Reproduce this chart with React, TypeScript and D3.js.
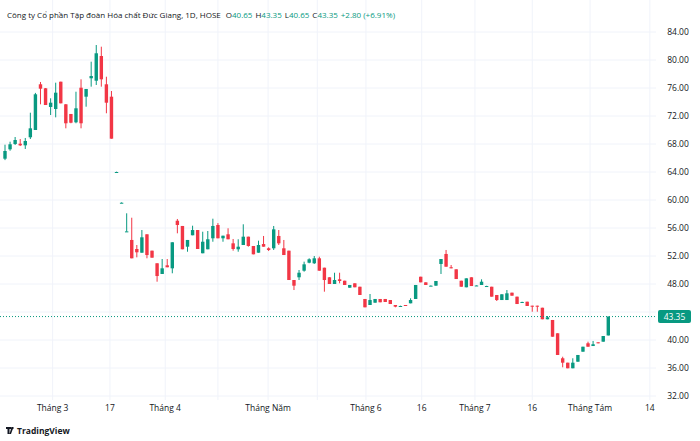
import React from "react";
import * as d3 from "d3";

// [open, high, low, close]
const candles: number[][] = [
  [65.9, 67.9, 65.7, 67.0], [67.24, 68.33, 67.04, 67.96], [68.0, 69.0, 67.86, 68.57], [68.04, 68.71, 67.71, 67.81],
  [67.81, 68.86, 67.29, 68.43], [68.96, 72.47, 68.71, 70.24], [70.0, 75.3, 70.0, 75.1], [76.53, 76.86, 73.67, 75.9],
  [75.96, 76.0, 73.57, 73.57], [73.29, 74.53, 72.14, 73.9], [73.0, 76.76, 71.81, 75.33], [76.9, 76.9, 73.81, 73.81],
  [73.67, 73.71, 70.24, 70.96], [72.29, 72.29, 70.96, 71.04], [71.1, 75.47, 70.96, 73.1], [76.04, 77.24, 70.24, 70.96],
  [74.76, 75.86, 73.33, 75.86], [77.39, 79.76, 76.19, 77.71], [77.04, 82.14, 76.43, 80.96], [80.57, 81.9, 76.19, 77.24],
  [76.53, 77.61, 72.39, 73.9], [74.76, 75.57, 68.76, 68.76], [64.0, 64.05, 63.95, 64.0], [59.61, 59.66, 59.56, 59.61],
  [55.47, 58.1, 55.47, 55.52], [54.29, 57.47, 51.67, 51.67], [53.0, 53.57, 51.81, 52.53], [52.47, 55.71, 52.47, 54.67],
  [55.1, 55.1, 51.67, 52.14], [52.76, 52.76, 51.76, 51.76], [50.96, 50.96, 48.33, 49.14], [49.43, 51.57, 49.43, 50.24],
  [50.67, 51.57, 50.39, 50.39], [50.24, 53.96, 49.53, 53.96], [57.04, 57.29, 55.24, 56.43], [56.29, 56.29, 52.96, 52.96],
  [53.33, 54.29, 52.61, 54.29], [54.96, 56.33, 54.96, 55.71], [55.71, 55.71, 53.0, 53.0], [52.39, 55.47, 52.39, 54.04],
  [52.96, 55.57, 52.96, 54.39], [54.53, 57.33, 54.04, 56.29], [56.43, 56.7, 54.53, 54.53], [54.53, 54.9, 54.04, 54.9],
  [55.1, 55.96, 54.39, 54.39], [53.81, 54.43, 52.76, 53.0], [52.96, 54.39, 52.61, 53.33], [53.57, 56.53, 53.57, 54.76],
  [54.76, 54.76, 53.33, 53.43], [53.43, 53.43, 52.24, 52.24], [52.47, 54.19, 52.47, 53.57], [53.71, 54.86, 53.33, 53.33],
  [53.1, 53.24, 52.71, 52.86], [53.1, 56.29, 52.86, 55.81], [54.86, 55.71, 53.57, 53.81], [53.1, 54.29, 52.14, 52.14],
  [52.76, 52.76, 48.57, 48.57], [48.57, 48.57, 47.14, 47.76], [48.96, 50.0, 48.57, 49.61], [49.9, 51.19, 49.76, 50.81],
  [51.04, 51.67, 50.96, 51.53], [50.96, 52.0, 50.86, 51.67], [51.67, 51.9, 49.9, 49.9], [50.33, 50.33, 46.9, 48.57],
  [48.96, 48.96, 48.0, 48.0], [48.0, 49.61, 48.0, 48.57], [48.67, 49.61, 48.1, 48.43], [48.47, 48.47, 47.86, 47.86],
  [47.47, 47.86, 47.47, 47.86], [48.1, 48.1, 47.53, 47.53], [47.61, 47.61, 46.43, 46.43], [45.86, 45.86, 44.67, 44.67],
  [45.0, 46.57, 45.0, 45.71], [45.33, 45.86, 45.33, 45.86], [45.86, 45.86, 45.39, 45.39], [45.86, 45.86, 45.43, 45.43],
  [45.71, 45.71, 45.14, 45.14], [45.0, 45.0, 44.67, 44.76], [44.86, 44.9, 44.82, 44.86], [45.0, 45.0, 44.86, 44.86],
  [45.24, 45.96, 45.24, 45.71], [45.86, 47.86, 45.86, 47.86], [49.04, 49.04, 48.24, 48.24], [48.24, 48.24, 47.86, 47.86],
  [47.76, 47.8, 47.72, 47.76], [47.76, 48.43, 47.76, 48.43], [50.86, 51.57, 49.43, 51.57], [52.29, 52.86, 50.47, 50.47],
  [50.39, 50.71, 50.24, 50.24], [50.1, 50.1, 48.71, 48.71], [48.47, 48.47, 47.61, 47.61], [47.53, 48.81, 47.53, 48.81],
  [48.96, 48.96, 47.71, 47.71], [47.79, 47.83, 47.75, 47.79], [47.86, 48.67, 47.86, 48.33], [47.71, 47.75, 47.67, 47.71],
  [47.61, 47.61, 46.19, 46.19], [46.43, 46.43, 45.57, 45.71], [45.71, 46.53, 45.71, 46.53], [45.71, 47.14, 45.71, 46.67],
  [46.76, 46.76, 46.33, 46.33], [46.19, 46.19, 45.14, 45.14], [45.43, 45.47, 45.39, 45.43], [45.47, 45.47, 44.86, 44.86],
  [44.9, 44.9, 44.04, 44.76], [44.9, 44.9, 44.04, 44.76], [44.61, 44.61, 42.96, 42.96], [42.96, 43.43, 42.96, 43.24],
  [42.86, 42.86, 40.47, 40.47], [40.96, 40.96, 37.86, 37.86], [37.39, 37.61, 36.1, 36.76], [36.76, 36.76, 35.96, 35.96],
  [35.96, 37.39, 35.96, 36.76], [36.9, 37.86, 36.9, 37.86], [38.33, 39.04, 38.33, 39.04], [39.53, 39.76, 39.04, 39.04],
  [39.14, 39.86, 39.14, 39.39], [39.67, 39.67, 39.53, 39.53], [39.76, 40.57, 39.76, 40.57], [40.65, 43.35, 40.65, 43.35],
];

const priceTicks = [32, 36, 40, 44, 48, 52, 56, 60, 64, 68, 72, 76, 80, 84];
const timeLabels = ["Tháng 3", "17", "Tháng 4", "Tháng Năm", "Tháng 6", "16", "Tháng 7", "16", "Tháng Tám", "14"];
const timeLabelIdx = [9.4, 20.7, 31.6, 51.9, 71.2, 82.2, 92.7, 104, 115.4, 127.2];
const extraGridIdx = [42, 61.6];
const lastPrice = 43.35;

const GREEN = "#089981";
const RED = "#F23645";

export default function App() {
  const W = 700, H = 441, plotR = 656;
  const x = d3.scaleLinear().domain([0, candles.length - 1]).range([5, 608.3]);
  const y = d3.scaleLinear().domain([32, 84]).range([396, 32]);
  const bw = 3.4;
  return (
    <svg width={W} height={H} style={{ position: "absolute", left: 0, top: 0, background: "#fff" }}
      fontFamily="'Open Sans', 'Noto Sans', sans-serif">
      <rect width={W} height={H} fill="#fff" />
      {priceTicks.map((p) => (
        <line key={"h" + p} x1={0} x2={plotR} y1={y(p)} y2={y(p)} stroke="#f0f3fa" />
      ))}
      {[...timeLabelIdx, ...extraGridIdx].map((t, i) => (
        <line key={"v" + i} x1={x(t)} x2={x(t)} y1={0} y2={400} stroke="#f0f3fa" />
      ))}
      {candles.map((c, i) => {
        const [o, h, l, cl] = c;
        const col = cl >= o ? GREEN : RED;
        const top = y(Math.max(o, cl)), bot = y(Math.min(o, cl));
        return (
          <g key={i}>
            <line x1={x(i)} x2={x(i)} y1={y(h)} y2={y(l)} stroke={col} strokeWidth={1} />
            <rect x={x(i) - bw / 2} y={top} width={bw} height={Math.max(1, bot - top)} fill={col} />
          </g>
        );
      })}
      <line x1={0} x2={plotR} y1={y(lastPrice)} y2={y(lastPrice)} stroke={GREEN} strokeDasharray="1,2" />
      {priceTicks.filter((p) => p !== 44).map((p) => (
        <text key={"t" + p} x={678} y={y(p) + 3} fontSize={8.5} fill="#131722" textAnchor="middle">{p.toFixed(2)}</text>
      ))}
      <rect x={658} y={y(lastPrice) - 6.5} width={33} height={13} rx={2} fill={GREEN} />
      <text x={674.5} y={y(lastPrice) + 3} fontSize={8.5} fill="#fff" textAnchor="middle">{lastPrice.toFixed(2)}</text>
      {timeLabels.map((t, i) => (
        <text key={"x" + i} x={x(timeLabelIdx[i])} y={411} fontSize={8.5} fill="#131722" textAnchor="middle">{t}</text>
      ))}
      <text x={7} y={18} fontSize={8} fill="#131722">
        Công ty Cổ phần Tập đoàn Hóa chất Đức Giang, 1D, HOSE
        <tspan dx={5}>O</tspan><tspan fill={GREEN}>40.65</tspan>
        <tspan dx={3}>H</tspan><tspan fill={GREEN}>43.35</tspan>
        <tspan dx={3}>L</tspan><tspan fill={GREEN}>40.65</tspan>
        <tspan dx={3}>C</tspan><tspan fill={GREEN}>43.35</tspan>
        <tspan dx={3} fill={GREEN}>+2.80 (+6.91%)</tspan>
      </text>
      <g transform="translate(6,427)">
        <path d="M0 0h5v2H3.5v5H1.5V2H0z M5.5 0h2l-2.5 7H3.5z" fill="#131722" />
        <circle cx={6.5} cy={1.2} r={1.1} fill="#131722" />
      </g>
      <text x={17} y={434} fontSize={8.5} fontWeight="bold" fill="#131722">TradingView</text>
    </svg>
  );
}
